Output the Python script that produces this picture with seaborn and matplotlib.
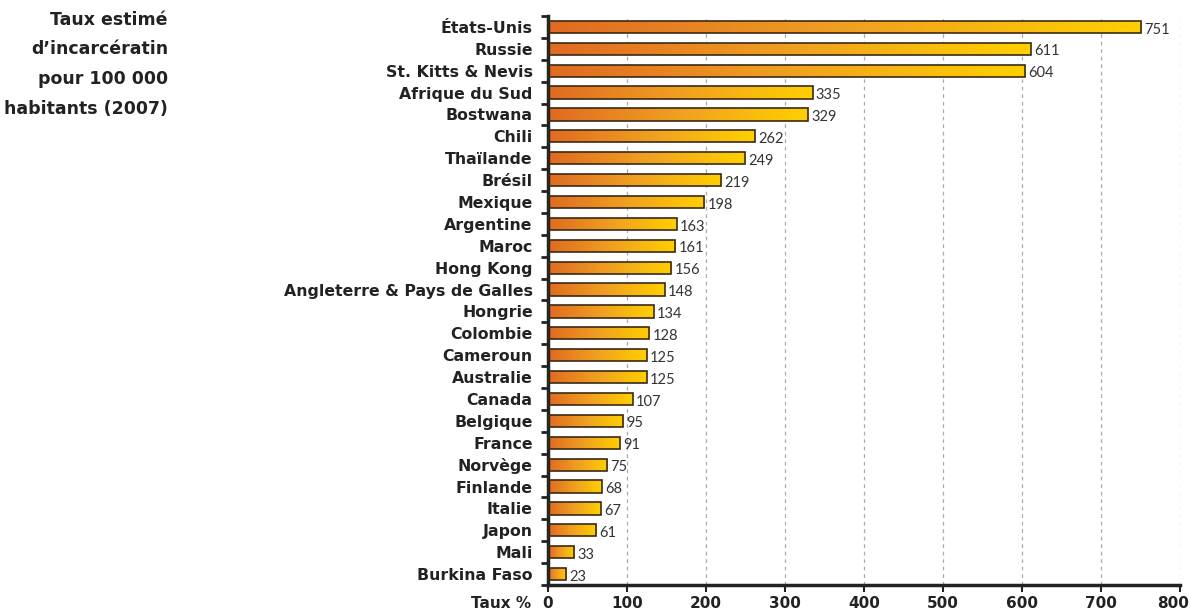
import numpy as np
import pandas as pd
import matplotlib
matplotlib.use("Agg")
import matplotlib.pyplot as plt
import matplotlib.transforms as mtransforms
import seaborn as sns
from matplotlib.colors import LinearSegmentedColormap

countries = ["États-Unis", "Russie", "St. Kitts & Nevis", "Afrique du Sud", "Bostwana",
             "Chili", "Thaïlande", "Brésil", "Mexique", "Argentine", "Maroc", "Hong Kong",
             "Angleterre & Pays de Galles", "Hongrie", "Colombie", "Cameroun", "Australie",
             "Canada", "Belgique", "France", "Norvège", "Finlande", "Italie", "Japon",
             "Mali", "Burkina Faso"]
rates = [751, 611, 604, 335, 329, 262, 249, 219, 198, 163, 161, 156, 148, 134, 128,
         125, 125, 107, 95, 91, 75, 68, 67, 61, 33, 23]
x_ticks = [0, 100, 200, 300, 400, 500, 600, 700, 800]
title_lines = ["Taux estimé", "d’incarcératin", "pour 100 000", "habitants (2007)"]
x_label = "Taux %"

df = pd.DataFrame({"pays": countries, "taux": rates})

sns.set_theme(style="white")
plt.rcParams["font.family"] = ["DejaVu Sans"]

fig = plt.figure(figsize=(11.91, 6.12), dpi=100)
ax = fig.add_axes([548/1191, 1 - 585/612, (1180 - 548)/1191, (585 - 16)/612])

sns.barplot(data=df, x="taux", y="pays", ax=ax, orient="h", width=0.56,
            facecolor="none", edgecolor="#3b2a14", linewidth=1.2, zorder=3)

cmap = LinearSegmentedColormap.from_list("og", ["#E06A22", "#F0A020", "#FFD000"])
grad = np.linspace(0, 1, 256).reshape(1, -1)
for p in ax.patches:
    x0, y0 = p.get_x(), p.get_y()
    w, h = p.get_width(), p.get_height()
    im = ax.imshow(grad, cmap=cmap, aspect="auto", extent=[x0, x0 + w, y0 + h, y0],
                   zorder=2, interpolation="bicubic")
    im.set_clip_path(p)

for i, v in enumerate(rates):
    ax.text(v + 4, i + 0.12, str(v), va="center", ha="left", fontsize=10.5,
            family=["Lato", "DejaVu Sans"], color="#333333", zorder=4)

ax.set_xlim(0, 800)
ax.set_ylim(len(countries) - 0.5, -0.5)
ax.set_xticks(x_ticks)
ax.set_xticklabels([str(t) for t in x_ticks], fontsize=11, fontweight="bold", color="#222222")
ax.set_yticks(range(len(countries)))
ax.set_yticklabels(countries, fontsize=11.3, fontweight="bold", color="#222222")
ax.set_yticks(np.arange(-0.5, len(countries), 1), minor=True)
ax.tick_params(axis="y", which="major", length=0, pad=11)
ax.tick_params(axis="y", which="minor", length=5, width=2, color="#222222", left=True)
ax.tick_params(axis="x", which="major", length=5, width=1.5, color="#222222", bottom=True, pad=3)
ax.set_xlabel("")
ax.set_ylabel("")

last = ax.get_xticklabels()[-1]
last.set_transform(last.get_transform() + mtransforms.ScaledTranslation(-7/100, 0, fig.dpi_scale_trans))

for t in x_ticks[1:]:
    ax.axvline(t, color="#aaaaaa", linestyle=(0, (3, 3)), linewidth=0.9, zorder=1)

for s in ["top", "right"]:
    ax.spines[s].set_visible(False)
ax.spines["left"].set_linewidth(2.5)
ax.spines["left"].set_color("#222222")
ax.spines["bottom"].set_linewidth(2.5)
ax.spines["bottom"].set_color("#222222")

fig.text(531/1191, 1 - 604/612, x_label, ha="right", va="center", fontsize=11,
         fontweight="bold", color="#222222")

for k, line in enumerate(title_lines):
    fig.text(168/1191, 1 - (20 + 29.5 * k)/612, line, ha="right", va="center",
             fontsize=12.5, fontweight="bold", color="#222222")

fig.savefig("out.png", dpi=100)
